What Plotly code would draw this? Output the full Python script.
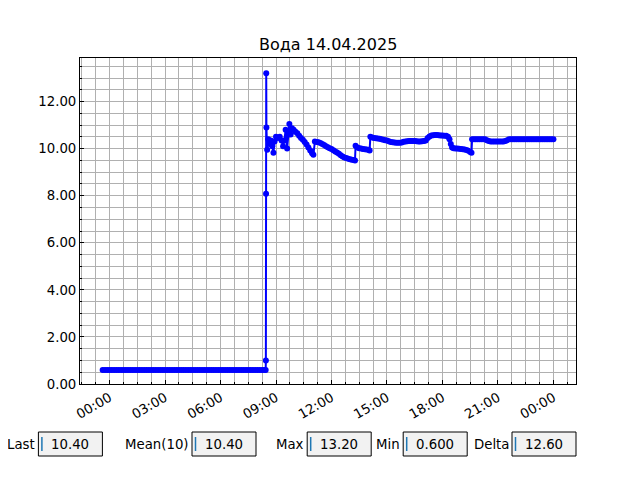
import plotly.graph_objects as go
from datetime import datetime, timedelta

# ---- data (hours relative to 14.04.2025 00:00) ----
night_hours = [-0.375, -0.25, -0.125, 0.0, 0.125, 0.25, 0.375, 0.5,
               0.625, 0.75, 0.875, 1.0, 1.125, 1.25, 1.375, 1.5,
               1.625, 1.75, 1.875, 2.0, 2.125, 2.25, 2.375, 2.5,
               2.625, 2.75, 2.875, 3.0, 3.125, 3.25, 3.375, 3.5,
               3.625, 3.75, 3.875, 4.0, 4.125, 4.25, 4.375, 4.5,
               4.625, 4.75, 4.875, 5.0, 5.125, 5.25, 5.375, 5.5,
               5.625, 5.75, 5.875, 6.0, 6.125, 6.25, 6.375, 6.5,
               6.625, 6.75, 6.875, 7.0, 7.125, 7.25, 7.375, 7.5,
               7.625, 7.75, 7.875, 8.0, 8.125, 8.25, 8.375, 8.44]
night_values = [0.6, 0.6, 0.6, 0.6, 0.6, 0.6, 0.6, 0.6,
                0.6, 0.6, 0.6, 0.6, 0.6, 0.6, 0.6, 0.6,
                0.6, 0.6, 0.6, 0.6, 0.6, 0.6, 0.6, 0.6,
                0.6, 0.6, 0.6, 0.6, 0.6, 0.6, 0.6, 0.6,
                0.6, 0.6, 0.6, 0.6, 0.6, 0.6, 0.6, 0.6,
                0.6, 0.6, 0.6, 0.6, 0.6, 0.6, 0.6, 0.6,
                0.6, 0.6, 0.6, 0.6, 0.6, 0.6, 0.6, 0.6,
                0.6, 0.6, 0.6, 0.6, 0.6, 0.6, 0.6, 0.6,
                0.6, 0.6, 0.6, 0.6, 0.6, 0.6, 0.6, 0.6]

jump_hours = [8.45, 8.46, 8.47, 8.48, 8.52, 8.58, 8.65, 8.72, 8.8, 8.86, 8.92, 9.0,
              9.1, 9.2, 9.3, 9.38, 9.45, 9.52, 9.6, 9.66, 9.72, 9.79, 9.86]
jump_values = [1.0, 8.08, 13.2, 10.9, 9.95, 10.4, 10.2, 10.35, 10.1, 9.82, 10.3, 10.5,
               10.45, 10.5, 10.35, 10.1, 10.35, 10.8, 10.0, 10.6, 11.05, 10.6, 10.87]

noon_hours = [9.95, 10.05, 10.15, 10.25, 10.35, 10.45, 10.55, 10.65, 10.75, 10.85,
              10.95, 11.02, 11.1, 11.2, 11.3, 11.4, 11.5, 11.6, 11.7, 11.8,
              11.9, 12.0, 12.1, 12.2, 12.3, 12.4, 12.5, 12.6, 12.7, 12.8,
              12.9, 13.0, 13.1, 13.2, 13.27, 13.3, 13.4, 13.5, 13.6, 13.7,
              13.8, 13.9, 14.0, 14.06]
noon_values = [10.8, 10.72, 10.65, 10.55, 10.45, 10.38, 10.28, 10.18, 10.05, 9.92,
               9.8, 9.74, 10.3, 10.28, 10.27, 10.24, 10.2, 10.15, 10.1, 10.06,
               10.02, 9.98, 9.93, 9.88, 9.83, 9.78, 9.72, 9.67, 9.62, 9.6,
               9.57, 9.55, 9.53, 9.52, 9.5, 10.12, 10.05, 10.02, 10.0, 9.98,
               9.97, 9.96, 9.95, 9.92]

afternoon_hours = [14.1, 14.2, 14.3, 14.4, 14.5, 14.6, 14.7, 14.8, 14.9, 15.0,
                   15.1, 15.2, 15.3, 15.4, 15.5, 15.6, 15.7, 15.8, 15.9, 16.0,
                   16.1, 16.2, 16.3, 16.4, 16.5, 16.6, 16.7, 16.8, 16.9, 17.0,
                   17.1, 17.2, 17.3, 17.4, 17.5, 17.6, 17.7, 17.8, 17.9, 18.0,
                   18.1, 18.2, 18.3, 18.38, 18.45, 18.52, 18.6, 18.7, 18.8, 18.9,
                   19.0, 19.1, 19.2, 19.3, 19.4, 19.5, 19.57]
afternoon_values = [10.5, 10.47, 10.45, 10.44, 10.43, 10.42, 10.4, 10.38, 10.36, 10.34,
                    10.31, 10.28, 10.27, 10.26, 10.25, 10.25, 10.25, 10.26, 10.29, 10.3,
                    10.31, 10.32, 10.32, 10.32, 10.32, 10.31, 10.3, 10.3, 10.31, 10.32,
                    10.35, 10.45, 10.52, 10.56, 10.57, 10.58, 10.58, 10.57, 10.56, 10.56,
                    10.55, 10.55, 10.5, 10.4, 10.2, 10.05, 10.02, 10.0, 10.0, 9.99,
                    9.98, 9.97, 9.96, 9.94, 9.91, 9.86, 9.82]

evening_hours = [19.6, 19.7, 19.8, 19.9, 20.0, 20.1, 20.2, 20.3, 20.4, 20.5,
                 20.6, 20.7, 20.8, 20.9, 21.0, 21.1, 21.2, 21.3, 21.4, 21.5,
                 21.6, 21.7, 21.8, 21.9, 22.0, 22.1, 22.2, 22.3, 22.4, 22.5,
                 22.6, 22.7, 22.8, 22.9, 23.0, 23.1, 23.2, 23.3, 23.4, 23.5,
                 23.6, 23.7, 23.8, 23.9, 24.0]
evening_values = [10.4, 10.4, 10.4, 10.4, 10.4, 10.4, 10.4, 10.4, 10.36, 10.32,
                  10.3, 10.3, 10.3, 10.3, 10.3, 10.3, 10.3, 10.3, 10.32, 10.36,
                  10.4, 10.4, 10.4, 10.4, 10.4, 10.4, 10.4, 10.4, 10.4, 10.4,
                  10.4, 10.4, 10.4, 10.4, 10.4, 10.4, 10.4, 10.4, 10.4, 10.4,
                  10.4, 10.4, 10.4, 10.4, 10.4]

title_text = "Вода 14.04.2025"
stat_labels = ["Last", "Mean(10)", "Max", "Min", "Delta"]
stat_values = ["10.40", "10.40", "13.20", "0.600", "12.60"]

# ---- build ----
base = datetime(2025, 4, 14)
all_hours = night_hours + jump_hours + noon_hours + afternoon_hours + evening_hours
all_values = night_values + jump_values + noon_values + afternoon_values + evening_values
times = [base + timedelta(hours=h) for h in all_hours]

FONT = "DejaVu Sans"
OFF = 8  # page body margin offset
W, H = 640 - OFF, 480 - OFF
L, T = 80 - OFF, 58 - OFF
PW, PH = 496, 326
R = W - L - PW
B = H - T - PH


def px_x(px):  # px = screen coordinate
    return (px - OFF - L) / PW


def px_y(py):
    return (T + PH - (py - OFF)) / PH


fig = go.Figure()
fig.add_trace(go.Scatter(
    x=times, y=all_values, mode="lines+markers",
    line=dict(color="#0000ff", width=2),
    marker=dict(color="#0000ff", size=6),
    showlegend=False, hoverinfo="skip",
))

grid_col = "#b0b0b0"
fig.update_xaxes(
    type="date",
    range=[base - timedelta(hours=1.6), base + timedelta(hours=25.22)],
    tick0=base, dtick=3 * 3600 * 1000, tickformat="%H:%M",
    tickangle=-30,
    ticks="inside", ticklen=4, tickwidth=1, tickcolor="black",
    showgrid=True, gridcolor=grid_col, gridwidth=1,
    minor=dict(dtick=45 * 60 * 1000, tick0=base, showgrid=True, gridcolor=grid_col,
               gridwidth=1, ticks="inside", ticklen=2, tickcolor="black"),
    showline=True, linecolor="black", linewidth=1, mirror=True,
    zeroline=False,
    tickfont=dict(family=FONT, size=13.3, color="black"),
)
fig.update_yaxes(
    range=[0, 13.85], tick0=0, dtick=2, tickformat=".2f",
    ticks="inside", ticklen=4, tickwidth=1, tickcolor="black",
    showgrid=True, gridcolor=grid_col, gridwidth=1,
    minor=dict(dtick=0.5, showgrid=True, gridcolor=grid_col, gridwidth=1,
               ticks="inside", ticklen=2, tickcolor="black"),
    showline=True, linecolor="black", linewidth=1, mirror=True,
    zeroline=False,
    tickfont=dict(family=FONT, size=13.3, color="black"),
)

shapes = []
annotations = [dict(
    text=title_text, xref="paper", yref="paper", x=0.5, y=px_y(44),
    xanchor="center", yanchor="middle", showarrow=False,
    font=dict(family=FONT, size=16, color="black"),
)]

box_lefts = [38.4, 192, 307.2, 403.2, 512]
box_top, box_bot, box_w = 432, 456, 64
for lab, val, bx in zip(stat_labels, stat_values, box_lefts):
    shapes.append(dict(type="rect", xref="paper", yref="paper",
                       x0=px_x(bx), x1=px_x(bx + box_w), y0=px_y(box_bot), y1=px_y(box_top),
                       line=dict(color="black", width=1), fillcolor="#f2f2f2", layer="above"))
    shapes.append(dict(type="line", xref="paper", yref="paper",
                       x0=px_x(bx + 3.5), x1=px_x(bx + 3.5), y0=px_y(451), y1=px_y(437),
                       line=dict(color="#1f77b4", width=1.5)))
    annotations.append(dict(text=lab, xref="paper", yref="paper",
                            x=px_x(bx - 1.5), y=px_y(444), xanchor="right", yanchor="middle",
                            showarrow=False, font=dict(family=FONT, size=13.3, color="black")))
    annotations.append(dict(text=val, xref="paper", yref="paper",
                            x=px_x(bx + 11), y=px_y(444), xanchor="left", yanchor="middle",
                            showarrow=False, font=dict(family=FONT, size=13.3, color="black")))

fig.update_layout(
    width=W, height=H,
    margin=dict(l=L, r=R, t=T, b=B, pad=0),
    paper_bgcolor="white", plot_bgcolor="white",
    shapes=shapes, annotations=annotations,
    showlegend=False,
)

fig.write_html("out.html")
